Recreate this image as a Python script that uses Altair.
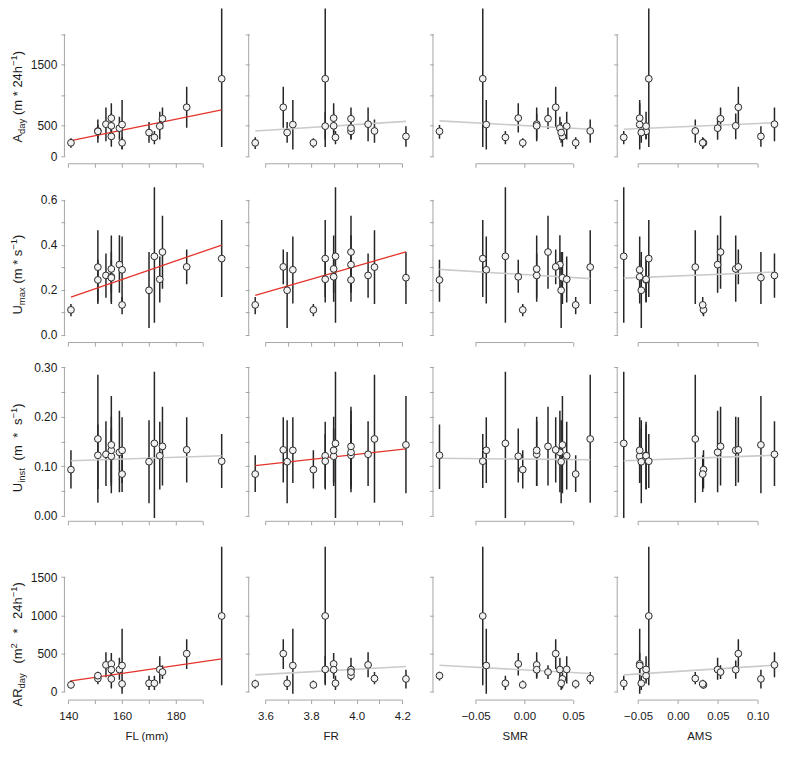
import altair as alt
import pandas as pd

# ---------------- data (16 fish) ----------------
FL = [141, 151, 151, 154, 156, 156, 156, 159, 160, 160, 170, 172, 174, 175, 184, 197]
FR = [3.81, 4.078, 3.975, 4.05, 3.899, 3.899, 4.216, 3.975, 3.72, 3.555, 3.695, 3.907, 3.862, 3.975, 3.678, 3.862]
SMR = [-0.0017, 0.0675, -0.0871, 0.0126, -0.0063, 0.0126, 0.039, 0.0364, -0.0391, 0.0526,
       0.0377, -0.0195, 0.0434, 0.0242, 0.0321, -0.0427]
AMS = [0.032, 0.0217, -0.040, 0.121, -0.048, 0.0724, 0.104, 0.0497, -0.048, 0.031,
       -0.046, -0.068, -0.040, 0.0534, 0.0757, -0.0366]

A_DAY = [220, 414, 408, 525, 624, 498, 325, 460, 519, 220, 388, 309, 493, 614, 802, 1269]
A_LO = [140, 220, 285, 246, 390, 280, 155, 272, 110, 120, 220, 195, 273, 446, 467, 152]
A_HI = [295, 600, 510, 797, 870, 700, 490, 648, 920, 310, 560, 415, 729, 797, 1138, 2700]

U_MAX = [0.111, 0.301, 0.244, 0.264, 0.258, 0.293, 0.254, 0.312, 0.289, 0.133, 0.198, 0.349, 0.247, 0.368, 0.302, 0.339]
U_MAX_LO = [0.083, 0.137, 0.147, 0.165, 0.187, 0.147, 0.137, 0.187, 0.139, 0.092, 0.030, 0.054, 0.144, 0.205, 0.225, 0.168]
U_MAX_HI = [0.137, 0.465, 0.334, 0.362, 0.334, 0.442, 0.368, 0.443, 0.437, 0.168, 0.368, 0.700, 0.348, 0.529, 0.379, 0.510]

U_INST = [0.093, 0.155, 0.122, 0.124, 0.120, 0.132, 0.143, 0.128, 0.132, 0.084, 0.109, 0.146, 0.121, 0.140, 0.133, 0.110]
U_INST_LO = [0.055, 0.026, 0.054, 0.060, 0.067, 0.060, 0.045, 0.047, 0.066, 0.048, 0.025, -0.005, 0.053, 0.061, 0.067, 0.056]
U_INST_HI = [0.132, 0.285, 0.184, 0.191, 0.176, 0.200, 0.242, 0.212, 0.199, 0.122, 0.193, 0.291, 0.190, 0.220, 0.199, 0.165]

AR_DAY = [92, 175, 212, 353, 366, 290, 170, 292, 345, 105, 113, 113, 294, 260, 500, 992]
AR_LO = [45, 100, 150, 193, 214, 172, 46, 160, -25, 46, 25, 25, 109, 168, 298, 88]
AR_HI = [150, 260, 265, 517, 508, 412, 290, 445, 824, 160, 210, 210, 466, 349, 689, 1895]

X_NAMES = ["FL (mm)", "FR", "SMR", "AMS"]
X_TICKS = [[140, 150, 160, 170, 180, 190],
           [3.6, 3.7, 3.8, 3.9, 4.0, 4.1, 4.2],
           [-0.05, 0.0, 0.05],
           [-0.05, 0.0, 0.05, 0.10]]
Y_TICKS = [[0, 500, 1000, 1500, 2000],
           [0.0, 0.1, 0.2, 0.3, 0.4, 0.5, 0.6],
           [0.0, 0.05, 0.10, 0.15, 0.20, 0.25, 0.30],
           [0, 500, 1000, 1500]]
Y_DOMAINS = [[-115, 2420], [-0.032, 0.656], [-0.0105, 0.3025], [-100, 1922]]

# fitted regression lines (value at min x, value at max x) for each row x column
FIT_START = [[257, 414, 580, 442],
             [0.168, 0.175, 0.291, 0.252],
             [0.111, 0.101, 0.116, 0.111],
             [143, 223, 349, 223]]
FIT_END = [[761, 571, 442, 548],
           [0.399, 0.369, 0.250, 0.279],
           [0.121, 0.135, 0.113, 0.122],
           [433, 332, 240, 349]]
FIT_SIGNIFICANT = [[1, 0, 0, 0], [1, 1, 0, 0], [0, 1, 0, 0], [1, 0, 0, 0]]

# y titles: (text, kind) kind: m=main, sub, sup
Y_TITLES = [
    [("A", "m"), ("day", "sub"), (" (m * 24h", "m"), ("\u22121", "sup"), (")", "m")],
    [("U", "m"), ("max", "sub"), (" (m * s", "m"), ("\u22121", "sup"), (")", "m")],
    [("U", "m"), ("inst", "sub"), (" (m * s", "m"), ("\u22121", "sup"), (")", "m")],
    [("AR", "m"), ("day", "sub"), (" (m", "m"), ("2", "sup"), (" * 24h", "m"), ("\u22121", "sup"), (")", "m")],
]
TITLE_CENTER_FRAC = [0.57, 0.564, 0.528, 0.643]
TITLE_EXTRA_SPACE = [0, 0, 4, 6]

X_LABEL_EXPR = [
    "datum.value % 20 == 0 ? datum.label : ''",
    "abs(round(datum.value * 10)) % 2 == 0 ? format(datum.value, '.1f') : ''",
    "format(datum.value, '.2f')",
    "format(datum.value, '.2f')",
]
Y_LABEL_EXPR = [
    "(datum.value == 1000 || datum.value == 2000) ? '' : format(datum.value, 'd')",
    "round(datum.value * 10) % 2 == 0 ? format(datum.value, '.1f') : ''",
    "round(datum.value * 100) % 10 == 0 ? format(datum.value, '.2f') : ''",
    "format(datum.value, 'd')",
]

# ---------------- styling ----------------
W, H = 163, 155
FONT = "Liberation Sans"
AXIS_GRAY = "#a6a6a6"
TEXT = "#1a1a1a"
RED = "#e3342b"
FIT_GRAY = "#cbcbcb"
MAIN_FS, SMALL_FS = 13, 9.5
TITLE_X = -43

CW = {"A": .667, "R": .722, "U": .722, "d": .556, "a": .556, "y": .5, "m": .833, "x": .5,
      "i": .222, "n": .556, "s": .5, "t": .278, " ": .278, "(": .333, ")": .333, "*": .389,
      "2": .556, "4": .556, "h": .556, "\u2212": .584, "1": .556}


def tw(s, fs, extra=0):
    return sum(CW.get(ch, 0.556) for ch in s) * fs + s.count(" ") * extra


DUMMY = pd.DataFrame({"k": [0]})


def title_layers(pieces, center, extra):
    sizes = [MAIN_FS if k == "m" else SMALL_FS for _, k in pieces]
    total = sum(tw(t, fs, extra) for (t, _), fs in zip(pieces, sizes))
    y = center + total / 2
    out = []
    for (t, k), fs in zip(pieces, sizes):
        lead = len(t) - len(t.lstrip(" "))
        ystart = y - lead * (CW[" "] * fs + extra)
        dx = 0 if k == "m" else (3.5 if k == "sub" else -5)
        # draw word by word so that extra spacing can be applied
        pos = ystart
        words = t.strip(" ").split(" ")
        for i, w in enumerate(words):
            out.append(
                alt.Chart(DUMMY).mark_text(text=w, angle=270, align="left",
                                           baseline="alphabetic", fontSize=fs, font=FONT,
                                           color=TEXT)
                .encode(x=alt.value(TITLE_X + dx), y=alt.value(pos))
            )
            pos -= tw(w, fs) + CW[" "] * fs + extra
        y -= tw(t, fs, extra)
    return out


X_DATA = [FL, FR, SMR, AMS]
Y_DATA = [(A_DAY, A_LO, A_HI), (U_MAX, U_MAX_LO, U_MAX_HI),
          (U_INST, U_INST_LO, U_INST_HI), (AR_DAY, AR_LO, AR_HI)]

panels = []
for r in range(4):
    for c in range(4):
        xs = X_DATA[c]
        ys, lo, hi = Y_DATA[r]
        df = pd.DataFrame({"x": xs, "y": ys, "lo": lo, "hi": hi})
        xmin, xmax = min(xs), max(xs)
        pad = 0.04 * (xmax - xmin)
        xscale = alt.Scale(domain=[xmin - pad, xmax + pad], nice=False, zero=False)
        yscale = alt.Scale(domain=Y_DOMAINS[r], nice=False, zero=False)
        bottom = r == 3
        left = c == 0
        xaxis_kw = dict(values=X_TICKS[c], labels=bottom, labelOverlap=False, labelFlush=False)
        if bottom:
            xaxis_kw["labelExpr"] = X_LABEL_EXPR[c]
            xaxis_kw["title"] = X_NAMES[c]
        else:
            xaxis_kw["title"] = None
        xaxis = alt.Axis(**xaxis_kw)
        yaxis_kw = dict(values=Y_TICKS[r], labels=left, labelOverlap=False, labelFlush=False, title=None)
        if left:
            yaxis_kw["labelExpr"] = Y_LABEL_EXPR[r]
        yaxis = alt.Axis(**yaxis_kw)

        bars = alt.Chart(df).mark_rule(clip=True, color="#262626", strokeWidth=1.5).encode(
            x=alt.X("x:Q", scale=xscale, axis=xaxis),
            y=alt.Y("lo:Q", scale=yscale, axis=yaxis),
            y2="hi:Q",
        )
        fitdf = pd.DataFrame({"x": [xmin, xmax], "y": [FIT_START[r][c], FIT_END[r][c]]})
        sig = FIT_SIGNIFICANT[r][c] == 1
        fit = alt.Chart(fitdf).mark_line(clip=True, color=RED if sig else FIT_GRAY,
                                         strokeWidth=1.3 if sig else 1.6).encode(
            x=alt.X("x:Q", scale=xscale, axis=xaxis),
            y=alt.Y("y:Q", scale=yscale, axis=yaxis),
        )
        pts = alt.Chart(df).mark_point(shape="circle", size=46, filled=True, fill="#f2f2f2",
                                       stroke="#2a2a2a", strokeWidth=1, opacity=1).encode(
            x=alt.X("x:Q", scale=xscale, axis=xaxis),
            y=alt.Y("y:Q", scale=yscale, axis=yaxis),
        )
        xline = alt.Chart(pd.DataFrame({"a": [X_TICKS[c][0]], "b": [X_TICKS[c][-1]]})).mark_rule(
            color=AXIS_GRAY, strokeWidth=1).encode(
            x=alt.X("a:Q", scale=xscale, axis=xaxis), x2="b:Q", y=alt.value(H + 0.5))
        yline = alt.Chart(pd.DataFrame({"a": [Y_TICKS[r][0]], "b": [Y_TICKS[r][-1]]})).mark_rule(
            color=AXIS_GRAY, strokeWidth=1).encode(
            y=alt.Y("a:Q", scale=yscale, axis=yaxis), y2="b:Q", x=alt.value(-0.5))
        layers = [bars, fit, pts, xline, yline]
        if left:
            layers += title_layers(Y_TITLES[r], TITLE_CENTER_FRAC[r] * H, TITLE_EXTRA_SPACE[r])
        panels.append(alt.layer(*layers).properties(width=W, height=H))

chart = alt.concat(*panels, columns=4, spacing={"row": 24, "column": 21.5}, bounds="flush",
                   padding={"left": 1, "top": 0, "right": 1, "bottom": 1}).configure_view(
    stroke=None
).configure_axis(
    domain=False, grid=False, tickColor=AXIS_GRAY, tickSize=4, tickWidth=1,
    labelFont=FONT, labelFontSize=12, labelColor=TEXT,
    titleFont=FONT, titleFontSize=12, titleFontWeight="normal", titleColor=TEXT,
).configure_axisX(labelPadding=7, titlePadding=8, labelFontSize=11.5, titleFontSize=11.5
).configure_axisY(labelPadding=4)

chart.save("out.html", embed_options={"renderer": "svg", "actions": False})
